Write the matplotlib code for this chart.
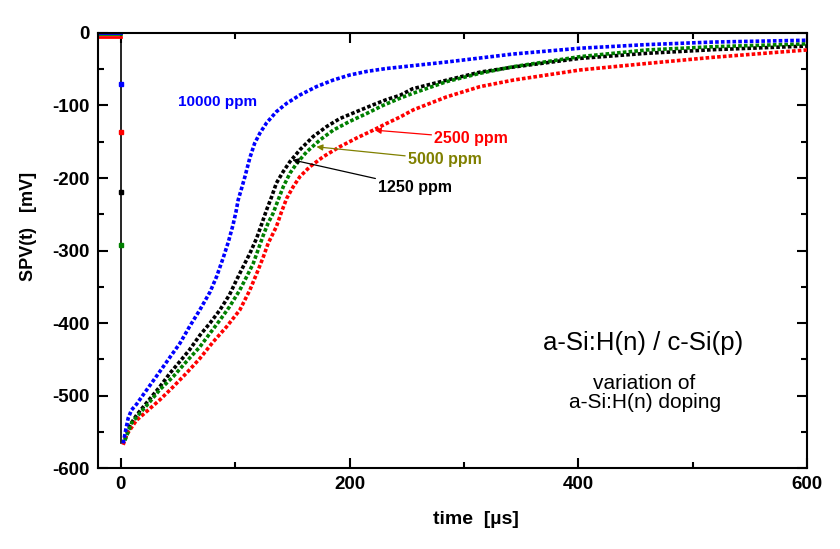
import numpy as np
import matplotlib.pyplot as plt

plt.rcParams['font.family'] = ['Liberation Sans', 'DejaVu Sans']
plt.rcParams['axes.unicode_minus'] = False

# SPV transients (t in us, SPV in mV)
t_10000 = [2, 4.4, 6.4, 9.3, 13.7, 19.5, 25.4, 34, 43, 51.6, 60, 69, 78, 83.7, 89.5,
           94, 98, 100.6, 102.6, 105.6, 108.5, 112.8, 117, 121.6, 127.4, 136, 145,
           156.6, 171, 185.5, 200, 215, 232, 244, 285, 343, 401.5, 460, 518, 600]
v_10000 = [-566, -546, -531, -520, -512, -499, -486, -467, -447, -428, -405, -382, -357,
           -336, -310, -288, -265, -247, -230, -214, -198, -172, -152, -138, -124, -108.5,
           -97, -85.5, -74, -65, -58, -53, -49, -47, -40, -29, -21, -16, -12.5, -10]

t_1250 = [3.5, 7.9, 13.7, 22.5, 34, 43, 51.6, 60, 69, 78, 86.6, 95, 101, 107, 112.8,
          118.7, 123, 127.4, 131.8, 136, 142, 147.8, 156.6, 168, 180, 191.5, 206, 220.7,
          232, 244, 255, 285, 314, 343, 401.5, 460, 518, 600]
v_1250 = [-560, -541, -527, -510, -488, -469, -453, -437, -417, -400, -382, -361, -341,
          -322, -304, -283, -264, -244, -226, -207, -191, -177.5, -161, -143, -129, -118,
          -108.5, -99, -92, -86, -77, -65, -54, -47, -35, -28, -23, -18]

t_5000 = [3.5, 9.3, 16.6, 25.4, 34, 45.7, 57.4, 69, 78, 86.6, 95, 104, 110, 115.7, 120,
          124.5, 128.8, 133, 137.6, 142, 147.8, 153.7, 162.4, 174, 185.7, 200, 215, 229,
          244, 255.7, 285, 314, 343, 401.5, 460, 518, 600]
v_5000 = [-562, -538, -524.5, -508.5, -492, -474, -453, -433, -414, -396, -377.5, -354.5,
          -336, -318, -299, -279, -262, -249, -230, -212, -193.5, -180, -164, -147.6, -134,
          -122, -111, -100, -90, -83, -67, -55.6, -46.5, -32.6, -23.4, -18.9, -15]

t_2500 = [2, 5, 13.7, 22.5, 34, 45.7, 57.4, 69, 80.7, 92.5, 104, 112.8, 120, 124.5, 128.8,
          136, 140.5, 145, 150.7, 156.6, 165.3, 177, 191.5, 206, 220.7, 232, 244, 255.7,
          285, 314, 343, 401.5, 460, 518, 600]
v_2500 = [-568, -554, -534, -522, -506, -488, -469, -449, -426, -405, -382, -354.5, -327,
          -309, -290, -267, -246.5, -228, -212, -198, -184.4, -170.6, -156.8, -145, -134,
          -125, -116, -106, -88, -74, -65, -51, -42, -33.5, -23.4]

# before the laser pulse and the single point on the falling edge
pre_t = [-20, 0]
pre_10000 = [0, 0]
pre_2500 = [-5, -5]
pre_5000 = [-2, -2]
edge_v = {'10000': -70, '2500': -137, '1250': -219, '5000': -292}
spike_t = [0, 0]
spike_v = [0, -566]

colors = {'1250': 'black', '2500': '#ff0000', '5000': '#008000', '10000': '#0000ff'}
series = [('1250', t_1250, v_1250), ('2500', t_2500, v_2500),
          ('5000', t_5000, v_5000), ('10000', t_10000, v_10000)]

fig = plt.figure(figsize=(8.4, 5.49), dpi=100)
ax = fig.add_axes([0.1167, 0.1475, 0.844, 0.7924])

ax.plot(spike_t, spike_v, color='black', lw=1.2, zorder=1)
ax.plot(pre_t, pre_2500, color=colors['2500'], lw=2, clip_on=False)
ax.plot(pre_t, pre_5000, color=colors['5000'], lw=2, clip_on=False)
ax.plot(pre_t, pre_10000, color=colors['10000'], lw=2, clip_on=False)

for name, t, v in series:
    ax.plot(t, v, color=colors[name], lw=2.6, linestyle=(0, (1, 0.6)),
            dash_capstyle='butt', zorder=3)
    ax.plot([0], [edge_v[name]], 's', color=colors[name], ms=2.5, zorder=3)

ax.set_xlim(-20, 600)
ax.set_ylim(-600, 0)
ax.set_xticks([0, 200, 400, 600])
ax.set_xticks([100, 300, 500], minor=True)
ax.set_yticks(np.arange(-600, 1, 100))
ax.set_yticks(np.arange(-550, 0, 100), minor=True)
ax.tick_params(which='both', direction='in', top=True, right=True, width=1.5,
               labelsize=13.5, pad=6)
ax.tick_params(which='major', length=7)
ax.tick_params(which='minor', length=4)
for lab in ax.get_xticklabels() + ax.get_yticklabels():
    lab.set_fontweight('bold')
for sp in ax.spines.values():
    sp.set_linewidth(1.5)

ax.set_xlabel('time  [µs]', fontsize=14, fontweight='bold')
ax.set_ylabel('SPV(t)   [mV]', fontsize=13, fontweight='bold')
ax.xaxis.set_label_coords(0.533, -0.098)
ax.yaxis.set_label_coords(-0.086, 0.556)

ax.text(50, -95, '10000 ppm', color=colors['10000'], fontsize=11, fontweight='bold',
        va='center')
arrow = dict(arrowstyle='-|>', lw=0.9, mutation_scale=9, shrinkA=0, shrinkB=0)
ax.annotate('2500 ppm', xy=(222, -134), xytext=(274, -145), color=colors['2500'],
            fontsize=11.5, fontweight='bold', va='center',
            arrowprops=dict(arrow, color=colors['2500']))
ax.annotate('5000 ppm', xy=(171, -157), xytext=(251, -175), color='#808000',
            fontsize=11.5, fontweight='bold', va='center',
            arrowprops=dict(arrow, color='#808000'))
ax.annotate('1250 ppm', xy=(150, -175), xytext=(225, -213), color='black',
            fontsize=11.5, fontweight='bold', va='center',
            arrowprops=dict(arrow, color='black'))

ax.text(457, -428, 'a-Si:H(n) / c-Si(p)', fontsize=18.5, ha='center', va='center')
ax.text(458, -496, 'variation of\na-Si:H(n) doping', fontsize=15, ha='center',
        va='center', linespacing=1.0)

plt.savefig('out.png', dpi=100)
plt.close()
